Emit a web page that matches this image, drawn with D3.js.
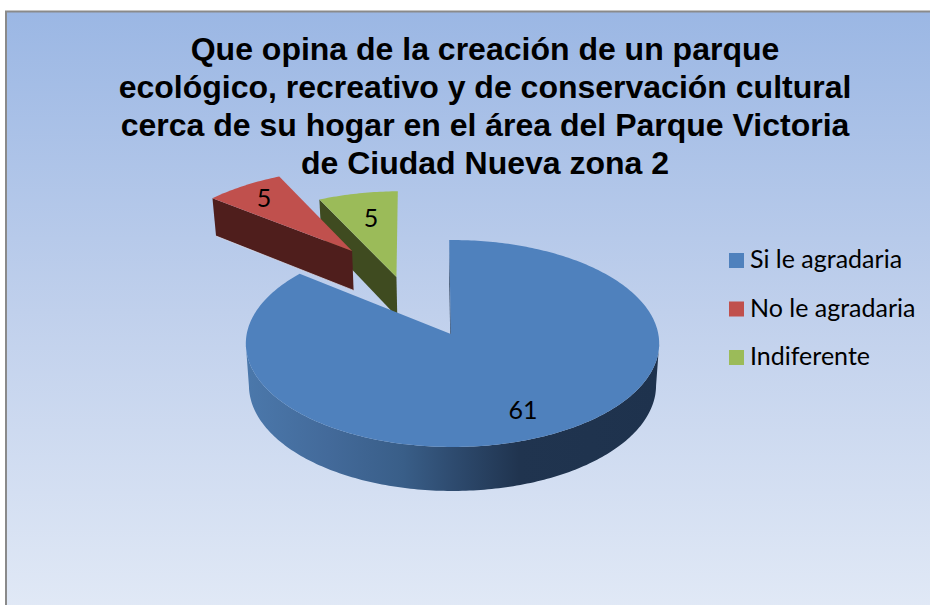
<!DOCTYPE html>
<html><head><meta charset="utf-8">
<script src="https://cdn.jsdelivr.net/npm/d3@7/dist/d3.min.js"></script>
<style>html,body{margin:0;padding:0;background:#fff;overflow:hidden}svg{display:block}</style>
</head><body><svg id="c" width="930" height="605"></svg>
<script>
const categories = ["Si le agradaria", "No le agradaria", "Indiferente"];
const values = [61, 5, 5];
const colors = ["#4f81bd", "#c0504d", "#9bbb59"];
const wallColors = ["url(#blueWall)", "#4f1e1c", "#3f4b20"];
const titleLines = [
  "Que opina de la creación de un parque",
  "ecológico, recreativo y de conservación cultural",
  "cerca de su hogar en el área del Parque Victoria",
  "de Ciudad Nueva zona 2"
];
// geometry of the tilted pie (perspective projection of the pie plane)
const G = {ax: 452.5, ay: 334, s: 205.8, k: 102.6, p: 0.0918, rot: -1 * Math.PI / 180};
// [apex u, apex v, radius, rim u offset, rim v offset]
const explode = [[-0.008, 0, 1, 0, 0], [-0.527, -0.873, 1.02, -0.527, -0.873], [-0.287, -0.585, 1.01, -0.287, -0.585]];
const labelPos = [[523, 419], [264, 207], [371, 227]];

const svg = d3.select("#c");
const defs = svg.append("defs");
const bg = defs.append("linearGradient").attr("id", "bg").attr("x1", 0).attr("y1", 0).attr("x2", 0).attr("y2", 1);
bg.append("stop").attr("offset", 0).attr("stop-color", "#9bb7e4");
bg.append("stop").attr("offset", 0.5).attr("stop-color", "#c0d0ec");
bg.append("stop").attr("offset", 1).attr("stop-color", "#e1e9f6");
const wg = defs.append("linearGradient").attr("id", "blueWall").attr("gradientUnits", "userSpaceOnUse")
  .attr("x1", 246).attr("x2", 660).attr("y1", 0).attr("y2", 0);
[[0, "#4b78ab"], [0.2, "#436a9a"], [0.38, "#395e88"], [0.5, "#2e4b6f"], [0.66, "#20344f"], [1, "#1e324d"]]
  .forEach(d => wg.append("stop").attr("offset", d[0]).attr("stop-color", d[1]));

svg.append("rect").attr("x", 6).attr("y", 11.5).attr("width", 930).attr("height", 600)
  .attr("fill", "url(#bg)").attr("stroke", "#8a8a8a").attr("stroke-width", 2);

const project = (u, v) => {
  const w = 1 - G.p * v;
  return [G.ax + G.s * u / w, G.ay + G.k * v / w, v];
};
const drop = p => [G.ax + (p[0] - G.ax) * 0.985, p[1] + 41.5 + 2.5 * p[2]];
const line = d3.line();

const arcs = d3.pie().sort(null).startAngle(G.rot).endAngle(G.rot + 2 * Math.PI)(values);

const geom = arcs.map((a, i) => {
  const [au, av, r, ou, ov] = explode[i];
  const apex = project(au, av);
  const n = Math.max(8, Math.round((a.endAngle - a.startAngle) * 60));
  const pts = d3.range(n + 1).map(j => {
    const t = a.startAngle + (a.endAngle - a.startAngle) * j / n;
    return {t, p: project(ou + r * Math.sin(t), ov - r * Math.cos(t))};
  });
  return {i, apex, rim: pts.map(d => d.p), front: pts.filter(d => -Math.cos(d.t) >= G.p).map(d => d.p)};
});

function drawSlice(g) {
  const s = svg.append("g");
  const wall = wallColors[g.i];
  // inner wall on the starting edge of the slice
  const e = g.rim[0];
  s.append("path").attr("d", line([g.apex, e, drop(e), drop(g.apex)]) + "Z")
    .attr("fill", g.i === 0 ? "#1e324d" : wall).attr("stroke", "none");
  // outer wall, only the part that faces the viewer
  if (g.front.length > 1) {
    s.append("path").attr("d", line(g.front.concat(g.front.map(drop).reverse())) + "Z").attr("fill", wall);
  }
  // top
  s.append("path").attr("d", line([g.apex].concat(g.rim)) + "Z").attr("fill", colors[g.i]);
  return s;
}
// painter's order: green, blue, red
drawSlice(geom[2]);
drawSlice(geom[0]);
const red = drawSlice(geom[1]);
red.append("path").attr("d", line([drop(geom[1].rim[0]), drop(geom[1].apex)]))
  .attr("fill", "none").attr("stroke", "#dfe6f4").attr("stroke-opacity", 0.7).attr("stroke-width", 1);

// data labels
svg.append("g").selectAll("text").data(values).join("text")
  .attr("x", (d, i) => labelPos[i][0]).attr("y", (d, i) => labelPos[i][1])
  .attr("text-anchor", "middle").attr("font-family", "Lato").attr("font-size", 25).attr("fill", "#000")
  .text(d => d);

// title
svg.append("g").selectAll("text").data(titleLines).join("text")
  .attr("x", 485).attr("y", (d, i) => 60 + i * 38)
  .attr("text-anchor", "middle").attr("font-family", "Liberation Sans").attr("font-weight", "bold")
  .attr("font-size", 32).attr("fill", "#000").text(d => d);

// legend
const ly = d3.scalePoint().domain(categories).range([268, 365]);
const color = d3.scaleOrdinal().domain(categories).range(colors);
const leg = svg.append("g").selectAll("g").data(categories).join("g").attr("transform", d => `translate(0,${ly(d)})`);
leg.append("rect").attr("x", 729).attr("y", -15).attr("width", 15).attr("height", 15).attr("fill", d => color(d));
leg.append("text").attr("x", 750).attr("y", 0).attr("font-family", "Lato").attr("font-size", 25).attr("fill", "#000").text(d => d);
</script></body></html>
